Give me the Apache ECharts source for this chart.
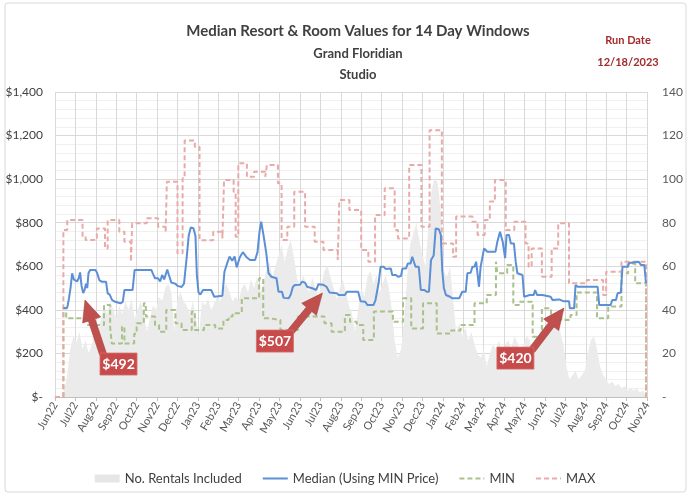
<!DOCTYPE html>
<html><head><meta charset="utf-8">
<script src="https://cdn.jsdelivr.net/npm/echarts@6/dist/echarts.min.js"></script>
<style>html,body{margin:0;padding:0;background:#fff}#c{width:690px;height:498px}</style>
</head><body><div id="c"></div>
<script>
// Month tick labels (x value = month index, 0 = Jun22)
const monthLabels = ['Jun22','Jul22','Aug22','Sep22','Oct22','Nov22','Dec22','Jan23','Feb23','Mar23','Apr23','May23','Jun23','Jul23','Aug23','Sep23','Oct23','Nov23','Dec23','Jan24','Feb24','Mar24','Apr24','May24','Jun24','Jul24','Aug24','Sep24','Oct24','Nov24'];

// MAX price: [month position where value starts, value]
const maxSteps = [[0,0],[0.41,767],[0.6,812],[1.35,736],[1.5,721],[2.05,774],[2.45,682],[2.58,812],[3.15,759],[3.4,713],[3.72,621],[3.78,797],[4.5,820],[5.05,782],[5.42,760],[5.48,988],[6.0,660],[6.25,1004],[6.35,1177],[6.85,1149],[7.08,720],[7.75,759],[8.2,728],[8.28,996],[8.75,942],[8.85,736],[8.98,1073],[9.4,1011],[9.75,1034],[10.3,1011],[10.38,1065],[10.92,981],[11.1,721],[11.38,782],[11.72,942],[12.25,782],[12.72,713],[13.15,675],[13.85,629],[13.93,904],[14.42,858],[15.0,675],[15.35,621],[15.68,835],[16.15,958],[16.64,767],[16.8,728],[17.35,1065],[17.95,782],[18.35,1225],[18.95,705],[19.5,644],[19.65,828],[20.45,805],[20.7,744],[21.05,812],[21.3,897],[21.55,996],[22.08,767],[22.5,805],[23.05,705],[23.2,598],[23.35,682],[23.85,552],[24.33,682],[24.65,797],[25.18,522],[26.05,537],[26.85,468],[27.0,575],[27.75,621],[28.95,0]];

// MIN price: [month position where value starts, value]
const minSteps = [[0,0],[0.41,407],[0.55,361],[1.4,353],[1.6,330],[2.4,422],[2.7,323],[2.78,246],[3.28,323],[3.4,246],[3.88,290],[4.0,338],[4.35,430],[4.45,369],[4.9,330],[5.1,300],[5.45,399],[5.9,338],[6.2,308],[6.7,392],[6.85,308],[7.3,330],[7.85,315],[8.25,353],[8.5,369],[8.7,385],[9.15,453],[10.0,545],[10.2,361],[10.55,353],[11.04,308],[11.9,369],[13.2,338],[13.55,300],[14.2,376],[14.45,345],[14.78,330],[15.1,262],[15.62,392],[16.55,345],[17.05,453],[17.45,315],[18.03,430],[18.7,292],[19.4,305],[19.87,330],[20.55,430],[21.15,468],[21.6,621],[21.67,568],[22.15,606],[22.45,422],[22.73,437],[23.4,277],[23.85,407],[24.3,369],[24.8,353],[25.25,376],[25.55,480],[26.55,361],[27.1,415],[27.75,568],[28.08,613],[28.42,522],[28.95,0]];

// Median (using MIN price): [month position, value]
const medianPts = [[0.41,407],[0.6,410],[0.68,450],[0.76,500],[0.84,568],[0.92,540],[1.0,537],[1.08,530],[1.16,545],[1.23,572],[1.3,510],[1.38,477],[1.45,492],[1.52,520],[1.58,500],[1.64,568],[1.72,583],[1.98,583],[2.06,570],[2.18,535],[2.3,529],[2.5,529],[2.58,476],[2.68,470],[2.8,445],[2.95,437],[3.2,430],[3.32,437],[3.4,491],[3.8,491],[3.9,583],[4.72,583],[4.8,565],[4.9,545],[5.05,545],[5.15,530],[5.25,560],[5.35,540],[5.42,537],[5.5,585],[5.58,560],[5.7,525],[5.9,520],[6.0,510],[6.2,505],[6.32,520],[6.45,640],[6.55,740],[6.65,778],[6.78,775],[6.88,740],[6.95,560],[7.03,480],[7.12,470],[7.25,491],[7.65,491],[7.8,460],[8.2,465],[8.3,575],[8.42,610],[8.55,645],[8.68,625],[8.8,645],[8.9,595],[9.05,640],[9.2,665],[9.4,640],[9.55,629],[9.8,629],[9.92,665],[10.02,760],[10.1,805],[10.2,751],[10.35,660],[10.46,568],[10.6,552],[10.85,545],[10.95,483],[11.12,483],[11.2,455],[11.45,453],[11.55,470],[11.65,505],[11.75,514],[12.0,515],[12.1,529],[12.25,525],[12.35,506],[12.6,499],[12.8,491],[12.9,517],[13.15,515],[13.3,506],[13.45,480],[13.8,476],[13.9,468],[14.2,468],[14.3,483],[14.85,483],[14.97,440],[15.2,437],[15.3,422],[15.6,422],[15.7,445],[15.85,522],[15.95,598],[16.1,598],[16.2,588],[16.45,590],[16.52,560],[16.7,560],[16.8,552],[16.95,555],[17.02,590],[17.2,590],[17.28,613],[17.42,613],[17.5,644],[17.58,644],[17.66,598],[17.82,598],[17.92,491],[18.1,491],[18.2,483],[18.32,483],[18.42,629],[18.55,650],[18.65,774],[18.8,770],[18.9,744],[18.97,583],[19.05,500],[19.15,468],[19.35,460],[19.45,453],[19.8,453],[19.95,483],[20.12,483],[20.2,568],[20.36,570],[20.45,598],[20.55,598],[20.63,621],[20.7,621],[20.77,506],[20.85,598],[20.94,598],[21.02,682],[21.1,682],[21.18,667],[21.58,667],[21.67,713],[21.75,713],[21.8,759],[21.88,755],[21.93,713],[22.0,713],[22.05,637],[22.12,744],[22.24,744],[22.33,705],[22.48,705],[22.57,620],[22.65,568],[22.9,560],[22.98,460],[23.14,465],[23.25,468],[23.45,468],[23.52,491],[23.62,468],[23.88,468],[23.96,460],[24.28,460],[24.37,445],[24.7,448],[24.9,440],[25.18,440],[25.22,407],[25.43,407],[25.5,514],[25.6,506],[26.58,506],[26.66,422],[27.22,422],[27.3,445],[27.48,445],[27.56,476],[27.72,480],[27.8,598],[28.05,598],[28.13,615],[28.2,621],[28.6,621],[28.7,606],[28.87,606],[28.95,522]];

// No. rentals included (right axis): [month position, count]
const rentalsPts = [[0,0],[0.35,0],[0.45,3],[0.6,10],[0.75,22],[0.9,28],[1.05,25],[1.2,30],[1.35,22],[1.5,26],[1.65,20],[1.8,24],[1.95,30],[2.1,28],[2.25,36],[2.4,42],[2.55,38],[2.7,44],[2.85,40],[3.0,36],[3.15,42],[3.3,38],[3.45,44],[3.6,40],[3.75,45],[3.9,36],[4.05,40],[4.2,44],[4.35,38],[4.5,30],[4.65,36],[4.8,42],[4.95,40],[5.1,46],[5.25,44],[5.4,50],[5.55,52],[5.7,48],[5.85,30],[6.0,45],[6.15,48],[6.3,44],[6.45,42],[6.6,38],[6.75,44],[6.9,36],[7.05,28],[7.2,44],[7.35,42],[7.5,45],[7.65,40],[7.8,43],[7.95,46],[8.1,44],[8.25,50],[8.4,52],[8.55,48],[8.7,44],[8.85,46],[9.0,44],[9.15,50],[9.3,52],[9.45,48],[9.6,54],[9.75,50],[9.9,55],[10.05,48],[10.2,52],[10.35,58],[10.5,62],[10.65,55],[10.8,60],[10.95,65],[11.1,70],[11.25,62],[11.4,68],[11.55,72],[11.7,64],[11.85,55],[12.0,50],[12.15,56],[12.3,52],[12.45,48],[12.6,55],[12.75,50],[12.9,46],[13.05,52],[13.2,58],[13.35,60],[13.5,55],[13.65,50],[13.8,45],[13.95,50],[14.1,54],[14.25,48],[14.4,42],[14.55,38],[14.7,30],[14.85,40],[15.0,50],[15.15,46],[15.3,55],[15.45,58],[15.6,52],[15.75,56],[15.9,48],[16.05,52],[16.2,56],[16.35,50],[16.5,40],[16.65,25],[16.8,18],[16.95,22],[17.1,35],[17.25,55],[17.4,70],[17.55,75],[17.7,80],[17.85,72],[18.0,65],[18.15,60],[18.3,80],[18.45,95],[18.6,101],[18.75,98],[18.9,85],[19.05,58],[19.2,55],[19.35,60],[19.5,45],[19.65,30],[19.8,34],[19.95,28],[20.1,32],[20.25,26],[20.4,30],[20.55,24],[20.7,20],[20.85,18],[21.0,22],[21.15,14],[21.3,20],[21.45,24],[21.6,22],[21.75,26],[21.9,20],[22.05,24],[22.2,26],[22.35,22],[22.5,28],[22.65,25],[22.8,20],[22.95,24],[23.1,28],[23.25,26],[23.4,22],[23.55,24],[23.7,28],[23.85,32],[24.0,30],[24.15,34],[24.3,36],[24.45,38],[24.6,34],[24.75,30],[24.9,24],[25.05,14],[25.2,8],[25.35,10],[25.5,12],[25.65,8],[25.8,10],[25.95,12],[26.1,20],[26.25,26],[26.4,28],[26.55,22],[26.7,14],[26.85,10],[27.0,8],[27.15,6],[27.3,7],[27.45,5],[27.6,6],[27.75,4],[27.9,5],[28.05,3],[28.2,4],[28.35,3],[28.5,4],[28.65,2],[28.8,3],[28.95,0]];

// Callout annotations: text and the point the arrow points at (month position, price)
const callouts = [
  {text:'$492', tip:[1.47,445], tail:[18,54], box:[15,53]},
  {text:'$507', tip:[13.10,477], tail:[-32,39], box:[-66,37]},
  {text:'$420', tip:[24.93,408], tail:[-32,42], box:[-67,39]}
];

const FONT = 'Lato, "Liberation Sans", sans-serif';
const chart = echarts.init(document.getElementById('c'), null, {renderer:'canvas'});
const hideSym = {opacity:0};
const option = {
  animation:false,
  textStyle:{fontFamily:FONT},
  grid:{left:55,right:43,top:92,bottom:101,containLabel:false},
  legend:{
    top:467, left:'center', itemWidth:25, itemHeight:8, itemGap:20,
    textStyle:{fontSize:13,color:'#404040',fontFamily:FONT},
    data:[
      {name:'No. Rentals Included',icon:'rect'},
      {name:'Median (Using MIN Price)',itemStyle:hideSym},
      {name:'MIN',itemStyle:hideSym},
      {name:'MAX',itemStyle:hideSym}
    ]
  },
  xAxis:{
    type:'value',min:0,max:29,interval:1,
    axisLine:{show:true,lineStyle:{color:'#BFBFBF'}},
    axisTick:{show:true,length:4,lineStyle:{color:'#BFBFBF'}},
    axisLabel:{rotate:60,fontSize:11,color:'#595959',margin:6,formatter:v=>monthLabels[v]||''},
    splitLine:{show:true,lineStyle:{color:'#D9D9D9'}}
  },
  yAxis:[
    {type:'value',min:0,max:1400,interval:200,position:'left',
     axisLine:{show:false},axisTick:{show:false},
     axisLabel:{fontSize:12,color:'#404040',margin:12,formatter:v=>v===0?'$-':'$'+v.toLocaleString('en-US')},
     splitLine:{show:true,lineStyle:{color:'#D9D9D9'}},
     minorTick:{show:false,splitNumber:5},
     minorSplitLine:{show:true,lineStyle:{color:'#F0F0F0'}}},
    {type:'value',min:0,max:140,interval:20,position:'right',
     axisLine:{show:false},axisTick:{show:false},
     axisLabel:{fontSize:12,color:'#595959',margin:15,formatter:v=>v===0?'-':String(v)},
     splitLine:{show:false}}
  ],
  series:[
    {name:'No. Rentals Included',type:'line',yAxisIndex:1,data:rentalsPts,symbol:'none',
     lineStyle:{width:0},areaStyle:{color:'#EBEBEB',opacity:1},itemStyle:{color:'#E6E6E6'},z:1,silent:true},
    {name:'Median (Using MIN Price)',type:'line',data:medianPts,symbol:'none',
     lineStyle:{color:'#5B8FD6',width:2},itemStyle:{color:'#5B8FD6'},z:4},
    {name:'MIN',type:'line',step:'end',data:minSteps,symbol:'none',
     lineStyle:{color:'#A9C18A',width:2,type:[5,3]},itemStyle:{color:'#A9C18A'},z:3},
    {name:'MAX',type:'line',step:'end',data:maxSteps,symbol:'none',
     lineStyle:{color:'#E8ABA8',width:2,type:[5,3]},itemStyle:{color:'#E8ABA8'},z:3}
  ]
};
chart.setOption(option);

const g = [];
g.push({type:'rect',shape:{x:5,y:3,width:681,height:489,r:3},style:{fill:'none',stroke:'#D9D9D9',lineWidth:1},silent:true,z:0});
function txt(t,x,y,font,fill){return {type:'text',x:x,y:y,style:{text:t,font:font,fill:fill,align:'center',verticalAlign:'middle'},z:10};}
g.push(txt('Median Resort & Room Values for 14 Day Windows',358,31,'bold 15px '+FONT,'#404040'));
g.push(txt('Grand Floridian',358,54,'bold 13px '+FONT,'#404040'));
g.push(txt('Studio',358,75,'bold 13px '+FONT,'#404040'));
g.push(txt('Run Date',628,40,'bold 11px '+FONT,'#A32B2B'));
g.push(txt('12/18/2023',628,62,'bold 11px '+FONT,'#A32B2B'));

callouts.forEach(c=>{
  const p = chart.convertToPixel({xAxisIndex:0,yAxisIndex:0},c.tip);
  const t = [p[0]+c.tail[0], p[1]+c.tail[1]];
  const dx=p[0]-t[0], dy=p[1]-t[1], L=Math.hypot(dx,dy);
  const ux=dx/L, uy=dy/L, nx=-uy, ny=ux;
  const sw=3.5, hw=9.5, hl=21;
  const h=[p[0]-ux*hl, p[1]-uy*hl];
  const pts=[[t[0]+nx*sw,t[1]+ny*sw],[h[0]+nx*sw,h[1]+ny*sw],[h[0]+nx*hw,h[1]+ny*hw],[p[0],p[1]],[h[0]-nx*hw,h[1]-ny*hw],[h[0]-nx*sw,h[1]-ny*sw],[t[0]-nx*sw,t[1]-ny*sw]];
  g.push({type:'polygon',shape:{points:pts},style:{fill:'#C0504D',stroke:'#A3403D',lineWidth:0.6},z:11});
  const bx=p[0]+c.box[0], by=p[1]+c.box[1];
  g.push({type:'rect',shape:{x:bx,y:by,width:37,height:22},style:{fill:'#C84B4B',stroke:'#D86A6A',lineWidth:0.8},z:12});
  g.push({type:'text',x:bx+18.5,y:by+11.5,style:{text:c.text,font:'bold 14px '+FONT,fill:'#FFFFFF',align:'center',verticalAlign:'middle'},z:13});
});
chart.setOption({graphic:g});
</script>
</body></html>
